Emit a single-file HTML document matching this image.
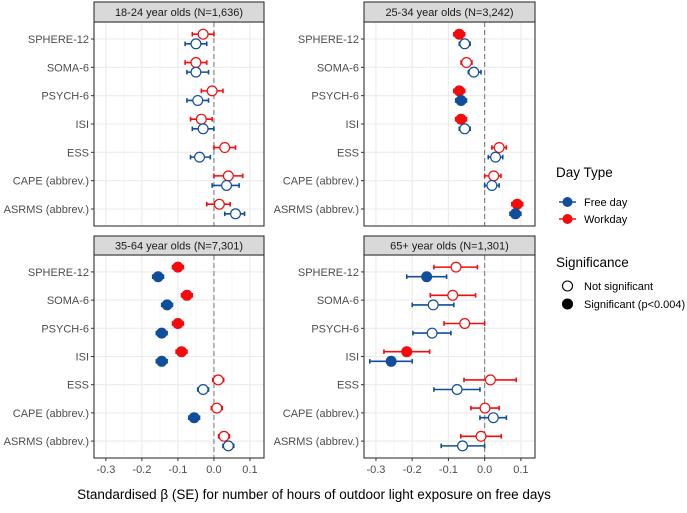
<!DOCTYPE html>
<html><head><meta charset="utf-8"><style>
body{margin:0;background:#fff}
svg text{font-family:"Liberation Sans",sans-serif}
</style></head><body>
<svg id="c" width="687" height="508" xmlns="http://www.w3.org/2000/svg"></svg>
<script>
const outcomes=["SPHERE-12","SOMA-6","PSYCH-6","ISI","ESS","CAPE (abbrev.)","ASRMS (abbrev.)"];
const panelTitles=["18-24 year olds (N=1,636)","25-34 year olds (N=3,242)","35-64 year olds (N=7,301)","65+ year olds (N=1,301)"];
const xTicks=[-0.3,-0.2,-0.1,0.0,0.1];
const xTickLabels=["-0.3","-0.2","-0.1","0.0","0.1"];
// per panel: [estimate, lo, hi, significant]
const workday=[
[[-0.03,-0.06,0.0,0],[-0.05,-0.08,-0.02,0],[-0.005,-0.035,0.025,0],[-0.035,-0.065,-0.005,0],[0.03,0.0,0.06,0],[0.04,0.0,0.08,0],[0.015,-0.02,0.045,0]],
[[-0.07,-0.085,-0.055,1],[-0.05,-0.065,-0.035,0],[-0.07,-0.085,-0.055,1],[-0.065,-0.08,-0.05,1],[0.04,0.02,0.06,0],[0.025,0.0,0.045,0],[0.09,0.075,0.105,1]],
[[-0.1,-0.115,-0.085,1],[-0.075,-0.09,-0.06,1],[-0.1,-0.115,-0.085,1],[-0.09,-0.105,-0.075,1],[0.012,-0.003,0.027,0],[0.008,-0.007,0.023,0],[0.028,0.013,0.043,0]],
[[-0.079,-0.14,-0.02,0],[-0.088,-0.15,-0.025,0],[-0.055,-0.112,0.0,0],[-0.215,-0.278,-0.152,1],[0.016,-0.057,0.087,0],[0.001,-0.038,0.04,0],[-0.01,-0.066,0.046,0]]
];
const freeday=[
[[-0.05,-0.08,-0.02,0],[-0.05,-0.075,-0.015,0],[-0.045,-0.075,-0.015,0],[-0.03,-0.06,0.0,0],[-0.04,-0.065,-0.01,0],[0.035,-0.005,0.07,0],[0.06,0.03,0.085,0]],
[[-0.055,-0.07,-0.04,0],[-0.03,-0.045,-0.01,0],[-0.065,-0.08,-0.05,1],[-0.055,-0.07,-0.04,0],[0.03,0.01,0.05,0],[0.02,0.0,0.04,0],[0.085,0.07,0.1,1]],
[[-0.155,-0.17,-0.14,1],[-0.13,-0.145,-0.115,1],[-0.145,-0.16,-0.13,1],[-0.145,-0.16,-0.13,1],[-0.03,-0.045,-0.015,0],[-0.055,-0.07,-0.04,1],[0.04,0.025,0.055,0]],
[[-0.16,-0.215,-0.105,1],[-0.142,-0.2,-0.085,0],[-0.145,-0.198,-0.093,0],[-0.258,-0.317,-0.2,1],[-0.076,-0.14,-0.013,0],[0.024,-0.013,0.06,0],[-0.061,-0.12,0.0,0]]
];
const RED="#f50b0b",BLUE="#104e9b";
const svg=document.getElementById('c');
const NS="http://www.w3.org/2000/svg";
function mk(t,a,p){const e=document.createElementNS(NS,t);for(const k in a)e.setAttribute(k,a[k]);(p||svg).appendChild(e);return e;}
const panels=[{x0:94,x1:264,y0:22,y1:226,s0:2},{x0:364,x1:535,y0:22,y1:226,s0:2},{x0:94,x1:264,y0:255,y1:458,s0:236},{x0:364,x1:535,y0:255,y1:458,s0:236}];
const xmin=-0.333,xmax=0.139;
panels.forEach((P,pi)=>{
  const g=mk('g',{});
  
  
  const X=v=>P.x0+(v-xmin)/(xmax-xmin)*(P.x1-P.x0);
  const step=(P.y1-P.y0)/7.2;
  const Y=i=>P.y0+(0.6+i)*step;
  for(let v=-0.35;v<=0.15;v+=0.1){const x=X(v);if(x>P.x0&&x<P.x1)mk('line',{x1:x,x2:x,y1:P.y0,y2:P.y1,stroke:'#f2f2f2','stroke-width':0.6},g);}
  xTicks.forEach(v=>mk('line',{x1:X(v),x2:X(v),y1:P.y0,y2:P.y1,stroke:'#ebebeb','stroke-width':1.1},g));
  outcomes.forEach((o,i)=>{
    mk('line',{x1:P.x0,x2:P.x1,y1:Y(i),y2:Y(i),stroke:'#ebebeb','stroke-width':1.1},g);
    mk('line',{x1:P.x0-3,x2:P.x0,y1:Y(i),y2:Y(i),stroke:'#333'},g);
    const t=mk('text',{x:P.x0-5,y:Y(i)+4,'text-anchor':'end','font-size':11,fill:'#4d4d4d'},g);t.textContent=o;
    
    
  });
  mk('line',{x1:X(0),x2:X(0),y1:P.y0,y2:P.y1,stroke:'#7f7f7f','stroke-width':1.1,'stroke-dasharray':'5,3'},g);
  [[workday[pi],RED,-4.8,'workday'],[freeday[pi],BLUE,4.8,'freeday']].forEach(([d,col,off,nm])=>{
    d.forEach((r,i)=>{
      const y=Y(i)+off;
      mk('line',{x1:X(r[1]),x2:X(r[2]),y1:y,y2:y,stroke:col,'stroke-width':1.6},g);
      mk('line',{x1:X(r[1]),x2:X(r[1]),y1:y-2.3,y2:y+2.3,stroke:col,'stroke-width':1.6},g);
      mk('line',{x1:X(r[2]),x2:X(r[2]),y1:y-2.3,y2:y+2.3,stroke:col,'stroke-width':1.6},g);
      const c=mk('circle',{cx:X(r[0]),cy:y,r:4.9,fill:r[3]?col:'#fff',stroke:col,'stroke-width':1.2},g);
      
      
    });
  });
  mk('rect',{x:P.x0,y:P.y0,width:P.x1-P.x0,height:P.y1-P.y0,fill:'none',stroke:'#333','stroke-width':1.1},g);
  const s=mk('rect',{x:P.x0,y:P.s0,width:P.x1-P.x0,height:P.y0-P.s0,fill:'#d9d9d9',stroke:'#333','stroke-width':1.1},g);
  
  
  const st=mk('text',{x:(P.x0+P.x1)/2,y:(P.s0+P.y0)/2+4,'text-anchor':'middle','font-size':11,fill:'#1a1a1a'},g);st.textContent=panelTitles[pi];
  if(pi>=2){xTicks.forEach((v,k)=>{
    mk('line',{x1:X(v),x2:X(v),y1:P.y1,y2:P.y1+3,stroke:'#333'},g);
    const t=mk('text',{x:X(v),y:P.y1+15,'text-anchor':'middle','font-size':11,fill:'#4d4d4d'},g);t.textContent=xTickLabels[k];
    
    
  });}
});
const xt=mk('text',{x:314,y:499,'text-anchor':'middle','font-size':13.5,fill:'#000'});xt.textContent="Standardised β (SE) for number of hours of outdoor light exposure on free days";


const lg=mk('g',{});


function T(x,y,s,fs){const t=mk('text',{x,y,'font-size':fs,fill:'#000'},lg);t.textContent=s;return t;}
T(556,177,"Day Type",13.5);
[[BLUE,"Free day",202],[RED,"Workday",219]].forEach(([c,s,y])=>{
  mk('line',{x1:559,x2:576,y1:y,y2:y,stroke:c,'stroke-width':1.6},lg);
  mk('circle',{cx:567.5,cy:y,r:5,fill:c},lg);
  const t=T(584,y+4,s,11);
});
T(556,267,"Significance",13.5);
[[0,"Not significant",286],[1,"Significant (p<0.004)",304]].forEach(([f,s,y])=>{
  mk('circle',{cx:567.5,cy:y,r:5,fill:f?'#000':'#fff',stroke:'#000','stroke-width':1.1},lg);
  const t=T(584,y+4,s,11);
});
</script>
</body></html>
